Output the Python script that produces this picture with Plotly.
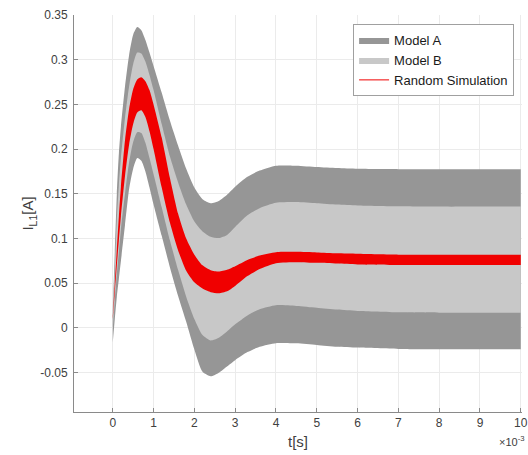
import plotly.graph_objects as go

# time in ms (axis shows x 10^-3 s)
t = [0, 0.05, 0.1, 0.15, 0.2, 0.3, 0.4, 0.5, 0.6, 0.7, 0.8, 0.9, 1.0, 1.2, 1.4, 1.6, 1.8,
     2.0, 2.2, 2.4, 2.6, 2.8, 3.0, 3.3, 3.6, 4.0, 4.5, 5.0, 5.5, 6.0, 7.0, 8.0, 9.0, 10.0]

model_a_upper = [0.02, 0.085, 0.15, 0.195, 0.225, 0.27, 0.305, 0.328, 0.3365, 0.333, 0.322, 0.308,
                 0.293, 0.263, 0.232, 0.204, 0.178, 0.157, 0.144, 0.1395, 0.142, 0.149, 0.158,
                 0.169, 0.176, 0.1815, 0.1815, 0.180, 0.1788, 0.178, 0.1776, 0.1776, 0.1776, 0.1776]
model_a_lower = [-0.016, 0.010, 0.035, 0.055, 0.075, 0.115, 0.155, 0.178, 0.19, 0.187, 0.175, 0.157,
                 0.138, 0.103, 0.068, 0.036, 0.007, -0.024, -0.049, -0.054, -0.050, -0.043, -0.036,
                 -0.027, -0.021, -0.017, -0.0172, -0.019, -0.021, -0.022, -0.0235, -0.0238, -0.0238, -0.0238]
model_b_upper = [0.015, 0.065, 0.12, 0.16, 0.19, 0.235, 0.27, 0.295, 0.308, 0.307, 0.298, 0.283,
                 0.266, 0.228, 0.192, 0.163, 0.138, 0.119, 0.108, 0.102, 0.1005, 0.104, 0.113,
                 0.126, 0.134, 0.140, 0.1408, 0.1395, 0.138, 0.137, 0.136, 0.1357, 0.1357, 0.1357]
model_b_lower = [0.0, 0.03, 0.06, 0.085, 0.11, 0.15, 0.185, 0.208, 0.219, 0.218, 0.207, 0.19,
                 0.172, 0.135, 0.098, 0.065, 0.035, 0.010, -0.008, -0.014, -0.011, -0.004, 0.004,
                 0.014, 0.021, 0.0255, 0.0245, 0.0225, 0.0205, 0.019, 0.0175, 0.0171, 0.0171, 0.0171]
sim_upper = [0.012, 0.05, 0.088, 0.125, 0.158, 0.21, 0.245, 0.267, 0.278, 0.2805, 0.276, 0.266,
             0.250, 0.213, 0.168, 0.128, 0.100, 0.082, 0.070, 0.0645, 0.063, 0.065, 0.069,
             0.076, 0.081, 0.0848, 0.0852, 0.0845, 0.0835, 0.083, 0.082, 0.082, 0.082, 0.082]
sim_lower = [0.010, 0.04, 0.07, 0.098, 0.125, 0.17, 0.205, 0.228, 0.241, 0.2435, 0.236, 0.22,
             0.20, 0.157, 0.118, 0.087, 0.064, 0.051, 0.044, 0.040, 0.0388, 0.041, 0.047,
             0.058, 0.066, 0.0725, 0.0735, 0.0728, 0.072, 0.071, 0.0705, 0.0705, 0.0705, 0.0705]

x_ticks = list(range(0, 11))
y_ticks = [-0.05, 0, 0.05, 0.1, 0.15, 0.2, 0.25, 0.3, 0.35]
y_ticktext = ["-0.05", "0", "0.05", "0.1", "0.15", "0.2", "0.25", "0.3", "0.35"]

COL_A = "#969696"
COL_B = "#c8c8c8"
COL_R = "#f00000"
FONT = "Arial, Liberation Sans, sans-serif"
TXT = "#404040"

fig = go.Figure()

def band(lower, upper, color, name, show):
    fig.add_trace(go.Scatter(x=t, y=lower, mode="lines", line=dict(width=0, color=color, shape="spline", smoothing=0.6),
                             showlegend=False, hoverinfo="skip"))
    fig.add_trace(go.Scatter(x=t, y=upper, mode="lines", fill="tonexty", fillcolor=color,
                             line=dict(width=0, color=color, shape="spline", smoothing=0.6),
                             name=name, showlegend=show, hoverinfo="skip"))

band(model_a_lower, model_a_upper, COL_A, "Model A", True)
band(model_b_lower, model_b_upper, COL_B, "Model B", True)
band(sim_lower, sim_upper, COL_R, "Random Simulation", False)
fig.add_trace(go.Scatter(x=[None], y=[None], mode="lines", line=dict(color=COL_R, width=1),
                         name="Random Simulation", showlegend=True))

axis_common = dict(showgrid=True, gridcolor="#ebebeb", gridwidth=1, zeroline=False,
                   showline=True, linecolor="#8a8a8a", linewidth=1, mirror=False,
                   ticks="inside", ticklen=4, tickcolor="#8a8a8a", automargin=False,
                   tickfont=dict(family=FONT, size=12, color=TXT))

fig.update_xaxes(range=[-0.95, 10.03], tickvals=x_ticks, ticklabeloverflow="allow",
                 title=dict(text="t[s]", font=dict(family=FONT, size=15, color=TXT), standoff=7),
                 **axis_common)
fig.update_yaxes(range=[-0.094, 0.35], tickvals=y_ticks, ticktext=y_ticktext,
                 ticklabelstandoff=3,
                 title=dict(text="I<sub>L1</sub>[A]", font=dict(family=FONT, size=15, color=TXT), standoff=2),
                 **axis_common)

fig.add_annotation(x=1, y=0, xref="paper", yref="paper", xanchor="right", yanchor="top",
                   yshift=-20, xshift=5, text="×10<sup>-3</sup>", showarrow=False,
                   font=dict(family=FONT, size=11, color=TXT))

fig.update_layout(
    width=528, height=455,
    margin=dict(l=74, r=6, t=15, b=43, autoexpand=False),
    paper_bgcolor="white", plot_bgcolor="white",
    font=dict(family=FONT),
    legend=dict(x=0.623, y=0.977, xanchor="left", yanchor="top", traceorder="normal",
                bgcolor="white", bordercolor="#a0a0a0", borderwidth=1,
                font=dict(family=FONT, size=13, color="#1a1a1a"),
                itemwidth=30, tracegroupgap=0),
)

fig.write_html("out.html")
